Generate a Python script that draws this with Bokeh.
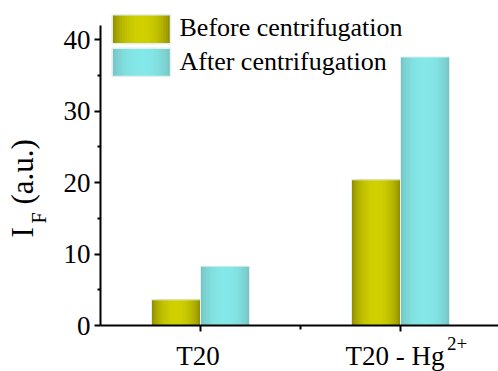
import math

from bokeh.embed import file_html
from bokeh.models import ColumnDataSource, FixedTicker, Label, Range1d
from bokeh.plotting import figure
from bokeh.resources import INLINE

# ---- data -------------------------------------------------------------
categories = ["T20", "T20 - Hg"]
category_sup = ["", "2+"]
before = [3.6, 20.4]
after = [8.3, 37.6]
series_names = ["Before centrifugation", "After centrifugation"]

y_ticks = [0, 10, 20, 30, 40]
y_minor = [5, 15, 25, 35]

# ---- styling ----------------------------------------------------------
FONT = "Liberation Serif"
OLIVE = ((0x80, 0x7E, 0x00), (0xD0, 0xD0, 0x00))   # edge, centre
CYAN = ((0x74, 0xBA, 0xBA), (0x84, 0xE8, 0xE8))
EDGE_LINE = "#e2f1ee"
BAR_W = 0.245
N_SLICES = 24
BASE_SHIFT = 0.37       # label anchor correction, in em

W, H = 498, 371
PX_X = 200.0            # pixels per x unit
PX_Y = 300.0 / 42.0     # pixels per y unit
AX_LEFT_PX, AX_BOTTOM_PX = 100.0, 325.0


def sx(px):
    """canvas x pixel -> data x"""
    return 0.5 + (px - AX_LEFT_PX) / PX_X


def sy(py):
    """canvas y pixel -> data y"""
    return (AX_BOTTOM_PX - py) / PX_Y


def hexcol(rgb):
    return "#%02x%02x%02x" % tuple(int(round(v)) for v in rgb)


def shade(pair, t):
    edge, mid = pair
    f = math.sin(math.pi * t) ** 0.55
    return hexcol([e + (m - e) * f for e, m in zip(edge, mid)])


def gradient_quads(left, right, bottom, top, pair):
    """cylinder-like shading: slices that each run to the right edge"""
    w = (right - left) / N_SLICES
    d = dict(left=[], right=[], top=[], bottom=[], color=[])
    for k in range(N_SLICES):
        d["left"].append(left + k * w)
        d["right"].append(right)
        d["top"].append(top)
        d["bottom"].append(bottom)
        d["color"].append(shade(pair, (k + 0.5) / N_SLICES))
    return d


def text(x_px, base_px, txt, size, align="left", angle=0.0):
    """serif label whose baseline sits at the given canvas pixel"""
    shift = BASE_SHIFT * size
    if angle:
        x_px -= shift
    else:
        base_px -= shift
    p.add_layout(Label(x=sx(x_px), y=sy(base_px), text=txt, angle=angle,
                       text_font=FONT, text_font_size=f"{size}px",
                       text_color="black", text_align=align,
                       text_baseline="alphabetic"))


# the frame covers the whole canvas; axes are pinned inside it
p = figure(
    width=W, height=H,
    x_range=Range1d(sx(0), sx(W)), y_range=Range1d(sy(H), sy(0)),
    output_backend="svg", toolbar_location=None,
    min_border=0,
)
p.outline_line_color = None
p.grid.visible = False
p.background_fill_color = "white"
p.border_fill_color = "white"

# ---- bars -------------------------------------------------------------
positions = [i + 1 for i in range(len(categories))]
for pos, vb, va in zip(positions, before, after):
    for left, right, val, pair in (
        (pos - BAR_W, pos, vb, OLIVE),
        (pos, pos + BAR_W, va, CYAN),
    ):
        src = ColumnDataSource(gradient_quads(left, right, 0, val, pair))
        p.quad(left="left", right="right", top="top", bottom="bottom",
               source=src, fill_color="color", line_color=None)
        p.quad(left=[left], right=[right], top=[val], bottom=[0],
               fill_color=None, line_color=EDGE_LINE, line_width=1)

# ---- axes -------------------------------------------------------------
ya = p.yaxis[0]
ya.fixed_location = 0.5
ya.ticker = FixedTicker(ticks=y_ticks, minor_ticks=y_minor)
ya.bounds = (0, 42)
ya.axis_line_width = 2
ya.major_tick_line_width = 2
ya.minor_tick_line_width = 2
ya.major_tick_in = 0
ya.major_tick_out = 6
ya.minor_tick_in = 0
ya.minor_tick_out = 3
ya.major_label_standoff = 4
ya.major_label_text_font = FONT
ya.major_label_text_font_size = "27px"
ya.major_label_text_color = "black"

xa = p.xaxis[0]
xa.fixed_location = 0
xa.bounds = (0.5, sx(W))
xa.ticker = FixedTicker(ticks=positions, minor_ticks=[1.5])
xa.axis_line_width = 2
xa.major_tick_line_width = 2
xa.minor_tick_line_width = 2
xa.major_tick_in = 0
xa.major_tick_out = 6
xa.minor_tick_in = 0
xa.minor_tick_out = 4
xa.major_label_overrides = {pos: "" for pos in positions}

# category labels (with superscript charge)
for pos, name, sup in zip(positions, categories, category_sup):
    cx = AX_LEFT_PX + (pos - 0.5) * PX_X
    if sup:
        text(cx + 44, 365.5, name, 27, align="right")
        text(cx + 46.5, 350, sup, 19)
    else:
        text(cx - 2.5, 365.5, name, 27, align="center")

# y-axis title: I_F (a.u.)
rot = math.pi / 2
text(33, 237, "I", 31, angle=rot)
text(46, 223, "F", 20, angle=rot)
text(33, 204, "(a.u.)", 31, angle=rot)

# ---- legend -----------------------------------------------------------
swatches = [(14.3, 43.3, OLIVE, 37.0), (47.7, 76.0, CYAN, 70.5)]
for (top_px, bot_px, pair, base_px), name in zip(swatches, series_names):
    l, r = sx(111.7), sx(170)
    t, b = sy(top_px), sy(bot_px)
    src = ColumnDataSource(gradient_quads(l, r, b, t, pair))
    p.quad(left="left", right="right", top="top", bottom="bottom",
           source=src, fill_color="color", line_color=None)
    p.quad(left=[l], right=[r], top=[t], bottom=[b],
           fill_color=None, line_color=EDGE_LINE, line_width=1.5)
    text(179, base_px, name, 26)

open("out.html", "w").write(file_html(p, INLINE))
